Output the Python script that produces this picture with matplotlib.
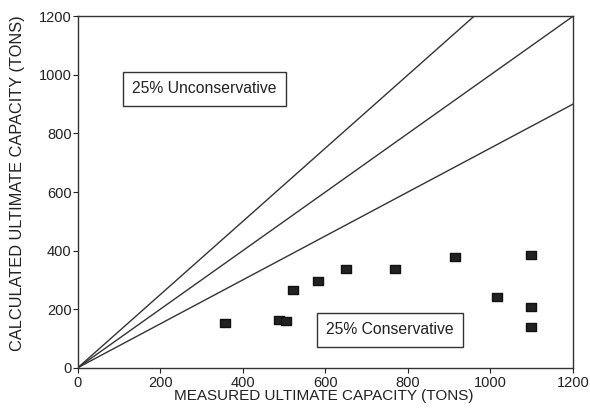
import matplotlib
matplotlib.use("Agg")
import matplotlib.pyplot as plt
from matplotlib.path import Path
import numpy as np

plt.rcParams['font.family'] = ['Liberation Sans', 'DejaVu Sans']

# measured vs calculated ultimate capacity (tons)
measured = [357, 488, 505, 522, 581, 650, 769, 913, 1098, 1017, 1098, 1098]
calculated = [152, 163, 160, 265, 297, 337, 337, 379, 385, 240, 207, 138]

# reference lines: 25% unconservative, 1:1, 25% conservative
ratios = [1.25, 1.0, 0.75]
ticks = [0, 200, 400, 600, 800, 1000, 1200]

fig = plt.figure(figsize=(5.9, 4.09), dpi=100)
ax = fig.add_axes([0.132, 0.101, 0.839, 0.859])

xs = np.array([0, 1200])
for r in ratios:
    ax.plot(xs, r * xs, color='#333333', lw=1.0)

# slightly flattened square marker, like the original
rect = Path([(-1, -0.8), (1, -0.8), (1, 0.8), (-1, 0.8), (-1, -0.8)],
            [Path.MOVETO, Path.LINETO, Path.LINETO, Path.LINETO, Path.CLOSEPOLY])
ax.plot(measured, calculated, ls='none', marker=rect, markersize=7.5,
        markerfacecolor='#222222', markeredgecolor='#111111', clip_on=False)

ax.set_xlim(0, 1200)
ax.set_ylim(0, 1200)
ax.set_xticks(ticks)
ax.set_yticks(ticks)
ax.tick_params(direction='out', length=3.5, width=0.8, labelsize=10.5,
               colors='#222222')
ax.tick_params(axis='x', pad=2.5)
ax.tick_params(axis='y', pad=1)
for s in ax.spines.values():
    s.set_color('#333333')
    s.set_linewidth(1.0)

ax.set_xlabel('MEASURED ULTIMATE CAPACITY (TONS)', fontsize=11,
              color='#222222')
ax.set_ylabel('CALCULATED ULTIMATE CAPACITY (TONS)', fontsize=11.8,
              color='#222222')
ax.xaxis.set_label_coords(0.497, -0.062)
ax.yaxis.set_label_coords(-0.107, 0.525)

box = dict(boxstyle='square,pad=0.6', facecolor='white', edgecolor='#333333', lw=1.0)
ax.text(132, 953, '25% Unconservative', fontsize=11.3, va='center', ha='left',
        color='#222222', bbox=box)
ax.text(602, 129, '25% Conservative', fontsize=11.3, va='center', ha='left',
        color='#222222', bbox=box)

fig.savefig('out.png', dpi=100)
